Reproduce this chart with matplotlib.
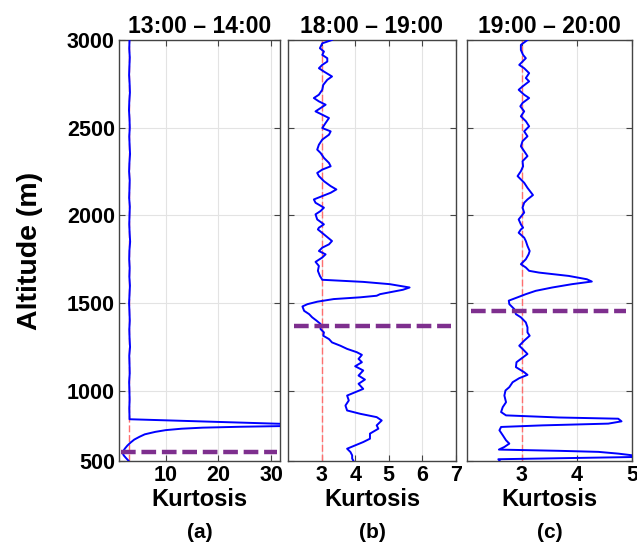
import numpy as np
import matplotlib.pyplot as plt

# Kurtosis profiles (altitude in m, kurtosis value)
alt_a = [3000, 2950, 2900, 2850, 2800, 2750, 2700, 2650, 2600, 2550,
         2500, 2450, 2400, 2350, 2300, 2250, 2200, 2150, 2100, 2050,
         2000, 1950, 1900, 1850, 1800, 1750, 1700, 1650, 1600, 1550,
         1500, 1450, 1400, 1350, 1300, 1250, 1200, 1150, 1100, 1050,
         1000, 950, 900, 850, 838, 810, 800, 795, 790, 784,
         776, 766, 752, 738, 722, 705, 688, 670, 655, 645,
         632, 618, 605, 598]
kurt_a = [3.10, 3.05, 3.15, 3.08, 3.02, 3.12, 3.18, 3.06, 3.00, 3.10,
          3.15, 3.05, 3.12, 3.20, 3.08, 3.02, 3.14, 3.09, 3.03, 3.16,
          3.10, 3.05, 3.12, 3.22, 3.08, 3.04, 3.13, 3.07, 3.18, 3.10,
          3.02, 3.09, 3.15, 3.06, 3.11, 3.20, 3.05, 3.10, 3.14, 3.03,
          3.08, 3.12, 3.06, 3.10, 3.10, 34.0, 34.0, 24.0, 17.0, 13.0,
          10.0, 8.0, 6.0, 5.0, 4.0, 3.3, 2.7, 2.2, 1.9, 1.8,
          2.0, 2.4, 2.8, 3.0]

alt_b = [3000, 2981, 2953, 2934, 2915, 2896, 2877, 2858, 2839, 2820,
         2792, 2773, 2744, 2716, 2688, 2669, 2650, 2631, 2612, 2593,
         2574, 2555, 2527, 2498, 2479, 2460, 2432, 2403, 2375, 2356,
         2328, 2299, 2280, 2261, 2242, 2224, 2195, 2167, 2148, 2129,
         2110, 2091, 2072, 2044, 2025, 2006, 1977, 1949, 1930, 1920,
         1892, 1854, 1835, 1816, 1797, 1778, 1760, 1735, 1712, 1684,
         1655, 1633, 1621, 1608, 1589, 1576, 1551, 1542, 1533, 1523,
         1508, 1494, 1481, 1456, 1437, 1419, 1400, 1381, 1352, 1333,
         1314, 1295, 1276, 1257, 1239, 1220, 1205, 1182, 1163, 1140,
         1116, 1087, 1064, 1040, 1011, 992, 973, 945, 916, 888,
         869, 850, 831, 803, 784, 756, 727, 708, 689, 670,
         651, 632, 614, 600]
kurt_b = [3.31, 3.02, 2.95, 3.07, 3.02, 3.17, 3.17, 3.02, 2.92, 3.07,
          3.31, 3.17, 3.05, 3.02, 2.92, 2.77, 2.92, 3.12, 2.97, 2.82,
          3.02, 3.22, 3.12, 3.02, 3.27, 3.22, 3.02, 2.92, 2.87, 2.97,
          3.07, 3.22, 3.27, 3.02, 2.87, 2.92, 3.07, 3.27, 3.44, 3.27,
          3.02, 2.77, 2.82, 3.07, 2.97, 2.82, 2.87, 3.07, 2.92, 2.89,
          3.07, 3.31, 3.22, 3.02, 2.92, 3.12, 3.02, 2.82, 2.92, 2.89,
          2.95, 3.02, 4.24, 5.03, 5.62, 5.42, 4.74, 4.64, 4.15, 3.36,
          2.87, 2.58, 2.43, 2.48, 2.63, 2.72, 2.85, 2.97, 2.97, 3.07,
          3.05, 3.22, 3.31, 3.56, 3.76, 4.05, 4.20, 4.10, 4.20, 4.00,
          4.24, 4.10, 4.29, 4.10, 4.24, 4.00, 3.76, 3.81, 3.71, 3.76,
          4.15, 4.64, 4.79, 4.64, 4.69, 4.44, 4.44, 4.24, 4.00, 3.76,
          3.86, 3.91, 3.91, 3.95]

alt_c = [3000, 2972, 2943, 2915, 2896, 2877, 2858, 2839, 2811, 2783,
         2764, 2735, 2716, 2688, 2669, 2641, 2622, 2593, 2565, 2537,
         2508, 2479, 2451, 2423, 2394, 2366, 2338, 2309, 2280, 2252,
         2224, 2205, 2186, 2157, 2116, 2091, 2072, 2044, 2016, 1977,
         1949, 1930, 1920, 1901, 1873, 1854, 1826, 1797, 1778, 1750,
         1722, 1703, 1684, 1674, 1655, 1636, 1623, 1608, 1589, 1570,
         1551, 1533, 1514, 1494, 1466, 1437, 1419, 1390, 1362, 1333,
         1314, 1286, 1257, 1239, 1210, 1182, 1163, 1135, 1106, 1091,
         1072, 1049, 1021, 1002, 973, 935, 907, 879, 860, 848,
         841, 826, 813, 803, 794, 775, 747, 718, 699, 680,
         665, 658, 652, 642, 633, 623, 610, 598]
kurt_c = [3.10, 2.98, 2.98, 3.02, 3.07, 3.01, 2.95, 3.04, 3.13, 3.07,
          3.13, 3.01, 2.94, 3.04, 3.13, 3.01, 2.97, 3.04, 2.98, 3.07,
          3.13, 3.04, 3.10, 3.01, 2.98, 3.04, 3.10, 3.01, 3.02, 2.98,
          2.92, 2.98, 3.04, 3.10, 3.20, 3.10, 3.04, 3.01, 3.04, 2.94,
          2.98, 3.02, 2.98, 2.94, 3.04, 3.07, 3.10, 3.14, 3.12, 3.07,
          2.98, 3.07, 3.13, 3.31, 3.85, 4.18, 4.27, 3.91, 3.55, 3.25,
          3.07, 2.92, 2.76, 2.77, 2.86, 2.89, 2.98, 3.07, 3.10, 3.10,
          3.14, 3.04, 2.95, 3.01, 3.10, 2.98, 2.90, 2.89, 3.04, 3.10,
          2.95, 2.83, 2.77, 2.70, 2.68, 2.71, 2.65, 2.62, 2.71, 3.67,
          4.75, 4.81, 4.57, 3.37, 2.62, 2.59, 2.65, 2.71, 2.77, 2.68,
          2.58, 3.67, 4.39, 4.75, 4.99, 5.10, 2.57, 2.60]

# mixing layer heights (m)
mlh = [651, 1371, 1456]

titles = ['13:00 – 14:00', '18:00 – 19:00', '19:00 – 20:00']
panel_labels = ['(a)', '(b)', '(c)']
xlims = [(1.1, 31.7), (2, 7), (2, 5)]
xticks = [[10, 20, 30], [3, 4, 5, 6, 7], [3, 4, 5]]
mlh_span = [(1.5, 31.2), (2.18, 6.85), (2.08, 4.89)]
ytick_pos = [600, 1000, 1500, 2000, 2500, 3000]
ytick_labels = ['500', '1000', '1500', '2000', '2500', '3000']

profiles = [(kurt_a, alt_a), (kurt_b, alt_b), (kurt_c, alt_c)]

plt.rcParams['font.family'] = ['Liberation Sans', 'DejaVu Sans']

fig = plt.figure(figsize=(6.37, 5.44), dpi=100)
positions = [[0.1868, 0.1526, 0.2527, 0.7739],
             [0.4521, 0.1526, 0.2637, 0.7739],
             [0.7331, 0.1526, 0.2590, 0.7739]]

for i in range(3):
    ax = fig.add_axes(positions[i])
    # Gaussian reference kurtosis = 3
    ax.axvline(3, color='#ff6f6f', lw=1.0, linestyle=(0, (5, 2)), zorder=2)
    kurt, alt = profiles[i]
    ax.plot(kurt, alt, color='blue', lw=1.4, zorder=3)
    ax.plot(mlh_span[i], [mlh[i], mlh[i]], color='#7e2f8e', lw=3.2,
            linestyle=(0, (3.3, 1.3)), zorder=4)

    ax.set_xlim(xlims[i])
    ax.set_ylim(600, 3000)
    ax.set_xticks(xticks[i])
    ax.set_yticks(ytick_pos)
    if i == 0:
        ax.set_yticklabels(ytick_labels)
    else:
        ax.set_yticklabels([])
    ax.grid(True, color='#e3e3e3', lw=0.8, zorder=0)
    ax.set_axisbelow(True)
    ax.tick_params(direction='in', top=True, right=True, length=4, width=0.8,
                   color='#444444', labelsize=15.5, pad=3)
    for lab in ax.get_xticklabels() + ax.get_yticklabels():
        lab.set_fontweight('bold')
    for s in ax.spines.values():
        s.set_color('#444444')
        s.set_linewidth(1.0)

    ax.set_title(titles[i], fontsize=16.5, fontweight='bold', pad=5)
    ax.set_xlabel('Kurtosis', fontsize=17, fontweight='bold', labelpad=1)

    cx = positions[i][0] + positions[i][2] / 2
    fig.text(cx, 0.022, panel_labels[i], ha='center', va='center',
             fontsize=15, fontweight='bold')

fig.text(0.047, 0.5395, 'Altitude (m)', rotation=90, ha='center', va='center',
         fontsize=20.5, fontweight='bold')

plt.savefig('out.png', dpi=100)
